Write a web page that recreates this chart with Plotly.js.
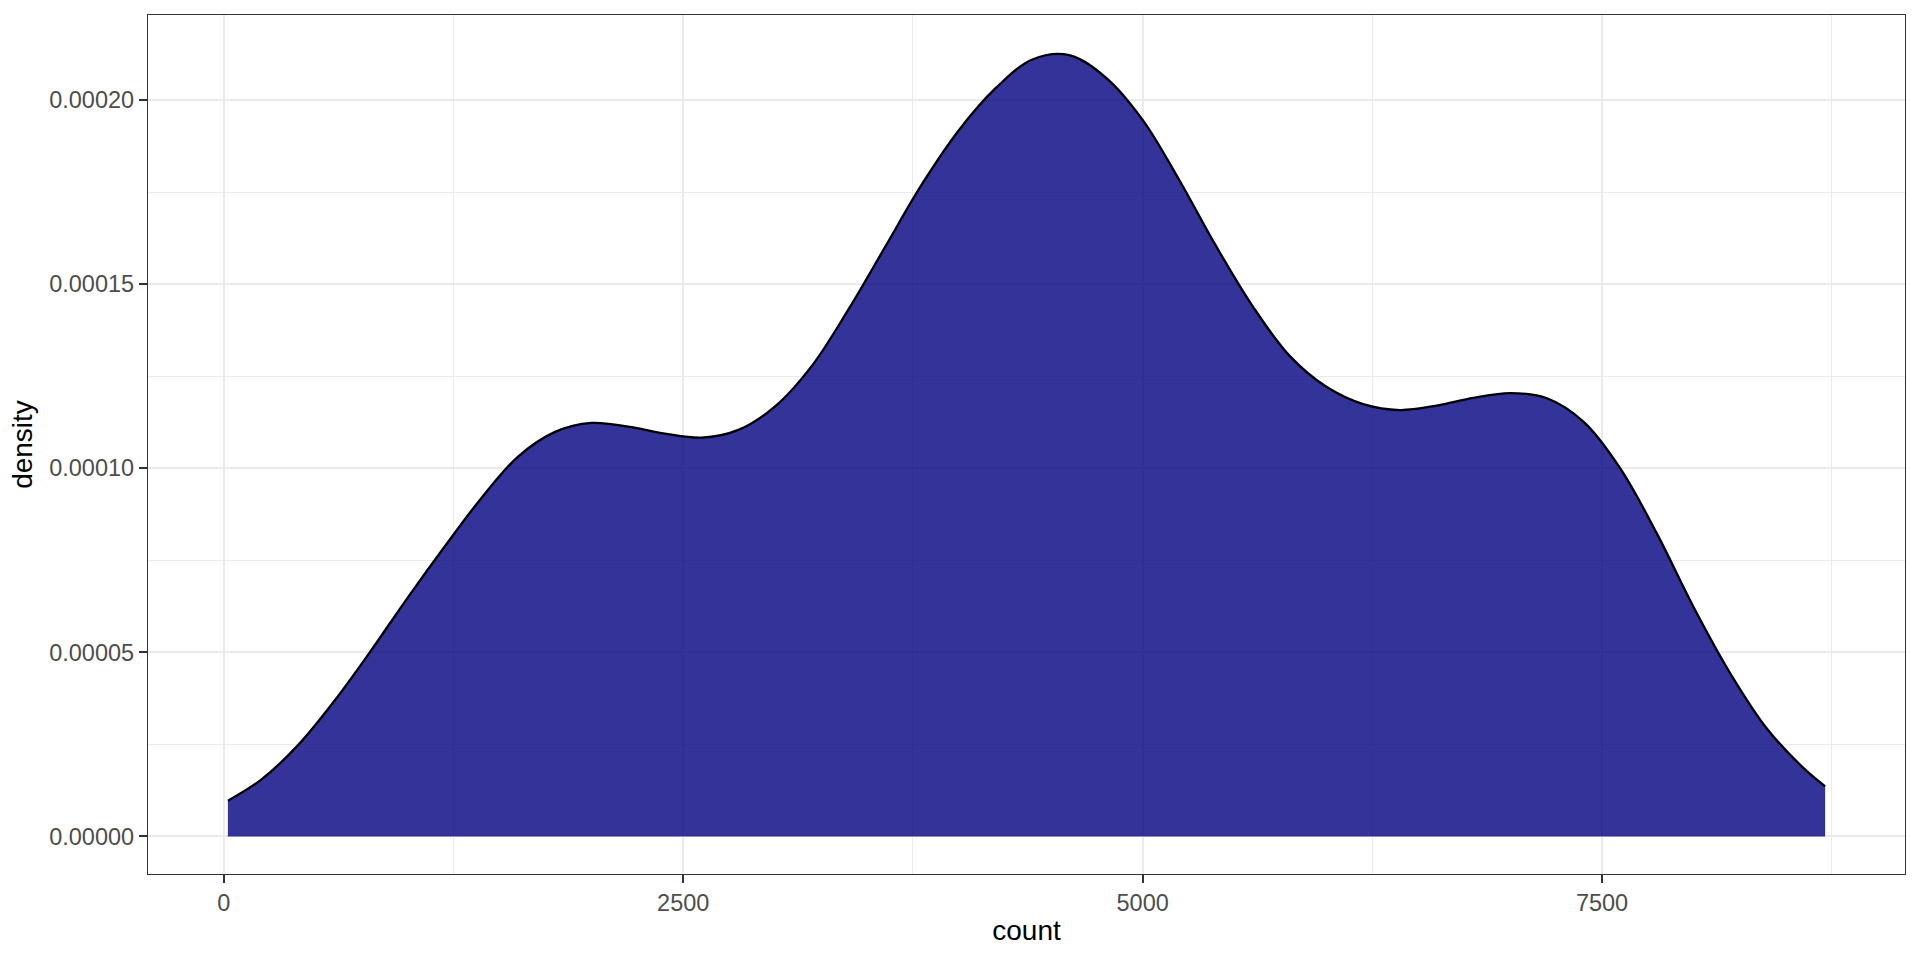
<!DOCTYPE html>
<html>
<head>
<meta charset="utf-8">
<script src="https://cdn.plot.ly/plotly-3.0.1.min.js"></script>
<style>html,body{margin:0;padding:0;background:#fff;}#chart{width:1920px;height:960px;}</style>
</head>
<body>
<div id="chart"></div>
<script>
// Kernel density of daily counts
const countValues = [22, 200, 400, 600, 800, 1000, 1200, 1400, 1600, 1800, 2000, 2200, 2400, 2600, 2800, 3000, 3200, 3400, 3600, 3800, 4000, 4200, 4400, 4600, 4800, 5000, 5200, 5400, 5600, 5800, 6000, 6200, 6400, 6600, 6800, 7000, 7200, 7400, 7600, 7800, 8000, 8200, 8400, 8600, 8714];
const densityValues = [0.0000097, 0.0000153, 0.0000246, 0.0000367, 0.0000504, 0.0000648, 0.0000786, 0.0000918, 0.0001031, 0.0001098, 0.0001123, 0.0001113, 0.0001094, 0.0001083, 0.0001104, 0.0001168, 0.0001278, 0.0001432, 0.0001602, 0.0001772, 0.0001918, 0.0002032, 0.0002110, 0.0002122, 0.0002061, 0.0001946, 0.0001782, 0.0001603, 0.0001439, 0.0001305, 0.0001221, 0.0001174, 0.0001158, 0.0001170, 0.0001191, 0.0001204, 0.0001190, 0.0001126, 0.0000999, 0.0000821, 0.0000621, 0.0000441, 0.0000291, 0.0000184, 0.0000136];

const xTickVals = [0, 2500, 5000, 7500];
const xTickText = ["0", "2500", "5000", "7500"];
const xMinorVals = [1250, 3750, 6250, 8750];
const yTickVals = [0, 0.00005, 0.0001, 0.00015, 0.0002];
const yTickText = ["0.00000", "0.00005", "0.00010", "0.00015", "0.00020"];
const yMinorVals = [0.000025, 0.000075, 0.000125, 0.000175];

const FONT = "Liberation Sans, Arial, Helvetica, sans-serif";

const trace = {
  type: "scatter",
  mode: "lines",
  x: countValues,
  y: densityValues,
  fill: "tozeroy",
  fillcolor: "rgba(0,0,128,0.8)",
  line: {color: "#000000", width: 2.3, shape: "spline", smoothing: 1},
  hoverinfo: "x+y",
  showlegend: false
};

const axisCommon = {
  showline: true, mirror: true, linecolor: "#333333", linewidth: 1.3,
  ticks: "outside", ticklen: 8, tickwidth: 2, tickcolor: "#333333",
  showgrid: true, gridcolor: "#EBEBEB", gridwidth: 2,
  zeroline: false,
  tickfont: {family: FONT, size: 23.5, color: "#4D4D4D"}
};

const layout = {
  width: 1920, height: 960,
  margin: {l: 148, r: 15, t: 15, b: 86},
  paper_bgcolor: "#FFFFFF", plot_bgcolor: "#FFFFFF",
  font: {family: FONT},
  xaxis: Object.assign({}, axisCommon, {
    range: [-412.6, 9148.6],
    tickmode: "array", tickvals: xTickVals, ticktext: xTickText,
    minor: {tickmode: "array", tickvals: xMinorVals, showgrid: true, gridcolor: "#EBEBEB", gridwidth: 1, ticks: ""},
    title: {text: "count", font: {family: FONT, size: 28, color: "#000000"}, standoff: 5}
  }),
  yaxis: Object.assign({}, axisCommon, {
    range: [-0.0000102, 0.00022308],
    tickmode: "array", tickvals: yTickVals, ticktext: yTickText,
    minor: {tickmode: "array", tickvals: yMinorVals, showgrid: true, gridcolor: "#EBEBEB", gridwidth: 1, ticks: ""},
    title: {text: "density", font: {family: FONT, size: 28, color: "#000000"}, standoff: 8}
  })
};

Plotly.newPlot("chart", [trace], layout, {displayModeBar: false});
</script>
</body>
</html>
